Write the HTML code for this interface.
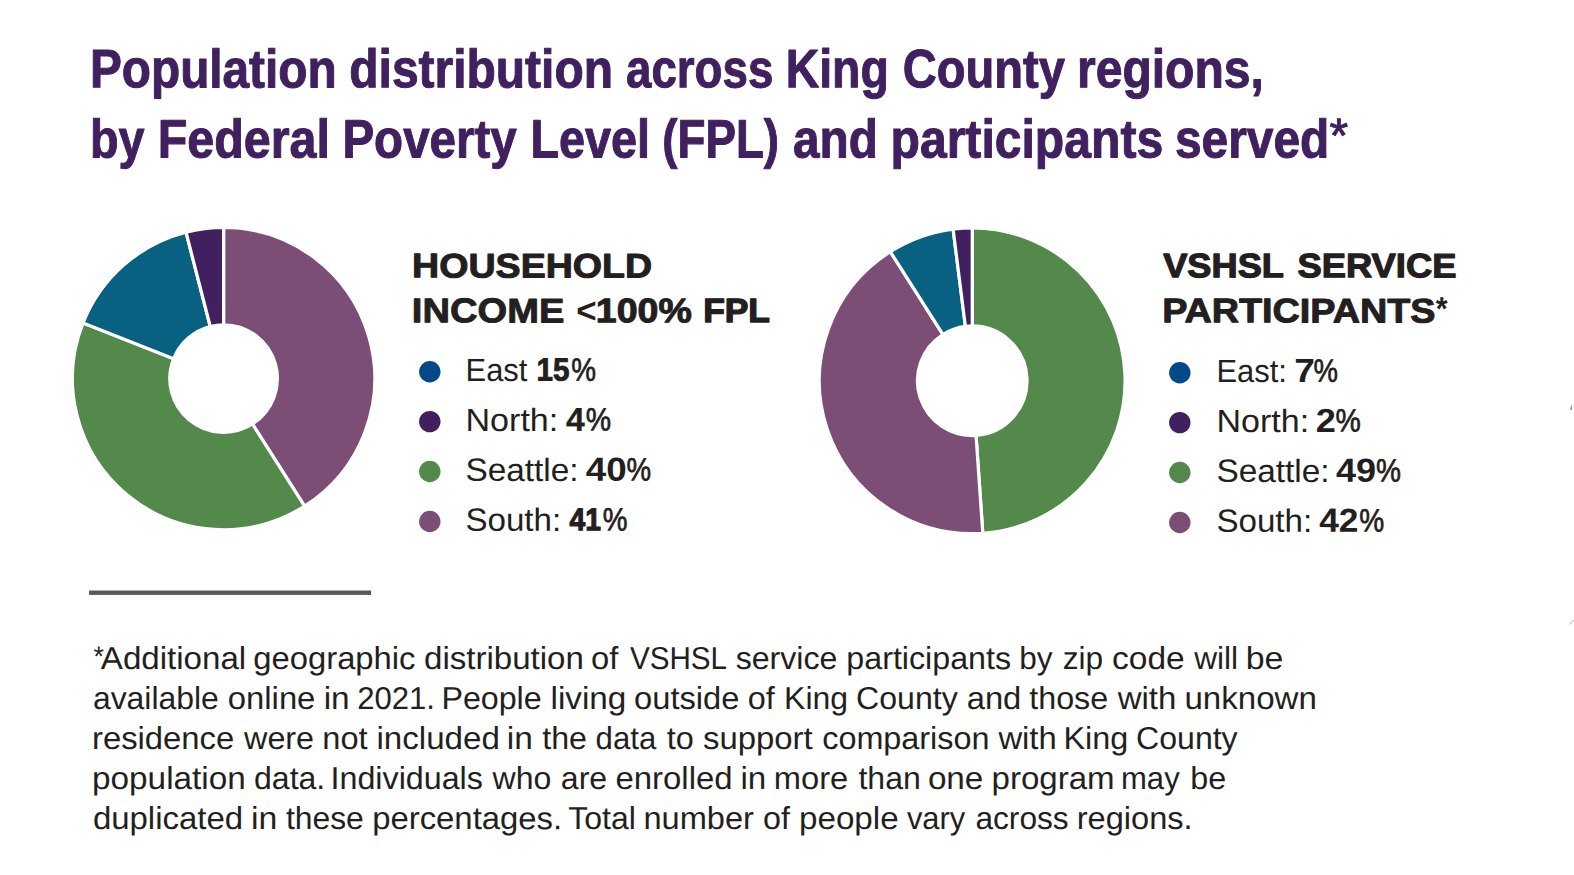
<!DOCTYPE html>
<html lang="en"><head><meta charset="utf-8"><title>Population distribution across King County regions</title>
<style>html,body{margin:0;padding:0;background:#fff}body{width:1574px;height:875px;overflow:hidden}svg{display:block}text{font-family:"Liberation Sans",Arial,Helvetica,sans-serif;white-space:pre;text-rendering:geometricPrecision}</style></head><body>
<svg width="1574" height="875" viewBox="0 0 1574 875">
<rect width="1574" height="875" fill="#fff"/>
<g><path d="M223.60 227.40A151.15 151.15 0 0 1 304.59 506.17L252.43 423.97A53.80 53.80 0 0 0 223.60 324.75Z" fill="#7c4e75" stroke="#fff" stroke-width="3.2"/>
<path d="M304.59 506.17A151.15 151.15 0 0 1 83.06 322.91L173.58 358.74A53.80 53.80 0 0 0 252.43 423.97Z" fill="#53894b" stroke="#fff" stroke-width="3.2"/>
<path d="M83.06 322.91A151.15 151.15 0 0 1 186.01 232.15L210.22 326.44A53.80 53.80 0 0 0 173.58 358.74Z" fill="#096182" stroke="#fff" stroke-width="3.2"/>
<path d="M186.01 232.15A151.15 151.15 0 0 1 223.60 227.40L223.60 324.75A53.80 53.80 0 0 0 210.22 326.44Z" fill="#40205f" stroke="#fff" stroke-width="3.2"/></g>
<g><path d="M972.25 227.85A152.90 152.90 0 0 1 982.81 533.28L976.03 435.42A54.80 54.80 0 0 0 972.25 325.95Z" fill="#53894b" stroke="#fff" stroke-width="3.2"/>
<path d="M982.81 533.28A152.90 152.90 0 0 1 890.32 251.65L942.89 334.48A54.80 54.80 0 0 0 976.03 435.42Z" fill="#7c4e75" stroke="#fff" stroke-width="3.2"/>
<path d="M890.32 251.65A152.90 152.90 0 0 1 953.09 229.06L965.38 326.38A54.80 54.80 0 0 0 942.89 334.48Z" fill="#096182" stroke="#fff" stroke-width="3.2"/>
<path d="M953.09 229.06A152.90 152.90 0 0 1 972.25 227.85L972.25 325.95A54.80 54.80 0 0 0 965.38 326.38Z" fill="#40205f" stroke="#fff" stroke-width="3.2"/></g>
<circle cx="429.8" cy="371.70" r="10.7" fill="#034888"/>
<circle cx="429.8" cy="421.60" r="10.7" fill="#40205f"/>
<circle cx="429.8" cy="471.55" r="10.7" fill="#53894b"/>
<circle cx="429.8" cy="521.50" r="10.7" fill="#7c4e75"/>
<circle cx="1179.8" cy="372.70" r="10.7" fill="#034888"/>
<circle cx="1179.8" cy="422.60" r="10.7" fill="#40205f"/>
<circle cx="1179.8" cy="472.55" r="10.7" fill="#53894b"/>
<circle cx="1179.8" cy="522.50" r="10.7" fill="#7c4e75"/>
<rect x="89.05" y="590.5" width="282.05" height="4.4" fill="#58585b"/>
<path d="M1570.2 410.2L1570.5 407.4L1572 404.3L1572.1 409.9Z" fill="#7a5b9b" opacity=".7"/>
<path d="M1569.4 624.6L1574 619.4" stroke="#c3d8dc" stroke-width="1.5" fill="none"/>
<g>
<text transform="translate(90.04 87.30) rotate(0.05) scale(0.8827 1)" font-size="54.07" font-weight="700" fill="#40205f" stroke="#40205f" stroke-width="1.00" stroke-linejoin="round">Population </text>
<text transform="translate(349.30 87.30) rotate(0.05) scale(0.8869 1)" font-size="54.07" font-weight="700" fill="#40205f" stroke="#40205f" stroke-width="1.00" stroke-linejoin="round">distribution </text>
<text transform="translate(626.03 87.30) rotate(0.05) scale(0.8449 1)" font-size="54.07" font-weight="700" fill="#40205f" stroke="#40205f" stroke-width="1.00" stroke-linejoin="round">across </text>
<text transform="translate(785.66 87.30) rotate(0.05) scale(0.8585 1)" font-size="54.07" font-weight="700" fill="#40205f" stroke="#40205f" stroke-width="1.00" stroke-linejoin="round">King </text>
<text transform="translate(902.64 87.30) rotate(0.05) scale(0.8712 1)" font-size="54.07" font-weight="700" fill="#40205f" stroke="#40205f" stroke-width="1.00" stroke-linejoin="round">County </text>
<text transform="translate(1077.01 87.30) rotate(0.05) scale(0.8882 1)" font-size="54.07" font-weight="700" fill="#40205f" stroke="#40205f" stroke-width="1.00" stroke-linejoin="round">regions,</text>
</g>
<g>
<text transform="translate(90.05 157.40) rotate(0.05) scale(0.8636 1)" font-size="54.07" font-weight="700" fill="#40205f" stroke="#40205f" stroke-width="1.00" stroke-linejoin="round">by </text>
<text transform="translate(157.66 157.40) rotate(0.05) scale(0.8959 1)" font-size="54.07" font-weight="700" fill="#40205f" stroke="#40205f" stroke-width="1.00" stroke-linejoin="round">Federal </text>
<text transform="translate(342.42 157.40) rotate(0.05) scale(0.8792 1)" font-size="54.07" font-weight="700" fill="#40205f" stroke="#40205f" stroke-width="1.00" stroke-linejoin="round">Poverty </text>
<text transform="translate(530.44 157.40) rotate(0.05) scale(0.8639 1)" font-size="54.07" font-weight="700" fill="#40205f" stroke="#40205f" stroke-width="1.00" stroke-linejoin="round">Level </text>
<text transform="translate(662.36 157.40) rotate(0.05) scale(0.8443 1)" font-size="54.07" font-weight="700" fill="#40205f" stroke="#40205f" stroke-width="1.00" stroke-linejoin="round">(FPL) </text>
<text transform="translate(792.99 157.40) rotate(0.05) scale(0.8832 1)" font-size="54.07" font-weight="700" fill="#40205f" stroke="#40205f" stroke-width="1.00" stroke-linejoin="round">and </text>
<text transform="translate(890.51 157.40) rotate(0.05) scale(0.8898 1)" font-size="54.07" font-weight="700" fill="#40205f" stroke="#40205f" stroke-width="1.00" stroke-linejoin="round">participants </text>
<text transform="translate(1175.03 157.40) rotate(0.05) scale(0.8843 1)" font-size="54.07" font-weight="700" fill="#40205f" stroke="#40205f" stroke-width="1.00" stroke-linejoin="round">served </text>
</g>
<g>
<text transform="translate(1329.42 152.10) rotate(0.05) scale(0.9884 1)" font-size="48.40" font-weight="400" fill="#40205f" stroke="#40205f" stroke-width="1.00" stroke-linejoin="round">*</text>
</g>
<g>
<text transform="translate(412.12 277.36) rotate(0.05) scale(1.0998 1)" font-size="34.17" font-weight="700" fill="#231f20" stroke="#231f20" stroke-width="0.99" stroke-linejoin="round">HOUSEHOLD</text>
</g>
<g>
<text transform="translate(411.87 322.30) rotate(0.05) scale(1.1116 1)" font-size="34.29" font-weight="700" fill="#231f20" stroke="#231f20" stroke-width="0.91" stroke-linejoin="round">INCOME </text>
<text transform="translate(576.31 322.75) rotate(0.05) scale(0.9792 1)" font-size="35.61" font-weight="700" fill="#231f20">&lt; </text>
<text transform="translate(595.80 322.25) rotate(0.05) scale(1.0989 1)" font-size="34.16" font-weight="700" fill="#231f20" stroke="#231f20" stroke-width="1.00" stroke-linejoin="round">100% </text>
<text transform="translate(703.14 322.08) rotate(0.05) scale(1.0507 1)" font-size="33.67" font-weight="700" fill="#231f20" stroke="#231f20" stroke-width="1.34" stroke-linejoin="round">FPL</text>
</g>
<g>
<text transform="translate(1163.23 277.25) rotate(0.05) scale(1.0688 1)" font-size="33.86" font-weight="700" fill="#231f20" stroke="#231f20" stroke-width="1.21" stroke-linejoin="round">VSHSL </text>
<text transform="translate(1297.43 277.26) rotate(0.05) scale(1.0728 1)" font-size="33.90" font-weight="700" fill="#231f20" stroke="#231f20" stroke-width="1.18" stroke-linejoin="round">SERVICE</text>
</g>
<g>
<text transform="translate(1162.14 322.27) rotate(0.05) scale(1.1034 1)" font-size="34.21" font-weight="700" fill="#231f20" stroke="#231f20" stroke-width="0.96" stroke-linejoin="round">PARTICIPANTS</text>
</g>
<g>
<text transform="translate(1435.64 319.70) rotate(0.05) scale(0.9246 1)" font-size="32.85" font-weight="700" fill="#231f20">*</text>
</g>
<g>
<text transform="translate(465.53 381.00) rotate(0.05) scale(0.9620 1)" font-size="32.12" font-weight="400" fill="#231f20">East </text>
</g>
<g>
<text transform="translate(536.41 380.55) rotate(0.05) scale(0.9255 1)" font-size="32.04" font-weight="700" fill="#231f20" stroke="#231f20" stroke-width="0.90" stroke-linejoin="round">15</text>
</g>
<g>
<text transform="translate(571.13 380.65) rotate(0.05) scale(0.8609 1)" font-size="32.34" font-weight="400" fill="#231f20" stroke="#231f20" stroke-width="0.70" stroke-linejoin="round">%</text>
</g>
<g>
<text transform="translate(465.51 430.90) rotate(0.05) scale(1.0605 1)" font-size="32.12" font-weight="400" fill="#231f20">North: </text>
</g>
<g>
<text transform="translate(566.12 430.76) rotate(0.05) scale(1.0228 1)" font-size="32.96" font-weight="700" fill="#231f20" stroke="#231f20" stroke-width="0.28" stroke-linejoin="round">4</text>
</g>
<g>
<text transform="translate(585.73 430.55) rotate(0.05) scale(0.8799 1)" font-size="32.34" font-weight="400" fill="#231f20" stroke="#231f20" stroke-width="0.70" stroke-linejoin="round">%</text>
</g>
<g>
<text transform="translate(465.38 480.85) rotate(0.05) scale(1.0394 1)" font-size="32.12" font-weight="400" fill="#231f20">Seattle: </text>
</g>
<g>
<text transform="translate(585.83 480.85) rotate(0.05) scale(1.1021 1)" font-size="33.36" font-weight="700" fill="#231f20">40</text>
</g>
<g>
<text transform="translate(626.41 480.50) rotate(0.05) scale(0.8545 1)" font-size="32.34" font-weight="400" fill="#231f20" stroke="#231f20" stroke-width="0.70" stroke-linejoin="round">%</text>
</g>
<g>
<text transform="translate(465.43 530.80) rotate(0.05) scale(1.0311 1)" font-size="32.12" font-weight="400" fill="#231f20">South: </text>
</g>
<g>
<text transform="translate(569.56 530.22) rotate(0.05) scale(0.8921 1)" font-size="31.68" font-weight="700" fill="#231f20" stroke="#231f20" stroke-width="1.15" stroke-linejoin="round">41</text>
</g>
<g>
<text transform="translate(602.78 530.45) rotate(0.05) scale(0.8606 1)" font-size="32.34" font-weight="400" fill="#231f20" stroke="#231f20" stroke-width="0.70" stroke-linejoin="round">%</text>
</g>
<g>
<text transform="translate(1216.44 382.00) rotate(0.05) scale(0.9618 1)" font-size="32.12" font-weight="400" fill="#231f20">East: </text>
</g>
<g>
<text transform="translate(1294.28 382.00) rotate(0.05) scale(1.1116 1)" font-size="33.36" font-weight="700" fill="#231f20">7</text>
</g>
<g>
<text transform="translate(1313.53 381.65) rotate(0.05) scale(0.8504 1)" font-size="32.34" font-weight="400" fill="#231f20" stroke="#231f20" stroke-width="0.70" stroke-linejoin="round">%</text>
</g>
<g>
<text transform="translate(1216.56 431.90) rotate(0.05) scale(1.0581 1)" font-size="32.12" font-weight="400" fill="#231f20">North: </text>
</g>
<g>
<text transform="translate(1315.86 431.90) rotate(0.05) scale(1.0840 1)" font-size="33.36" font-weight="700" fill="#231f20">2</text>
</g>
<g>
<text transform="translate(1335.48 431.55) rotate(0.05) scale(0.8789 1)" font-size="32.34" font-weight="400" fill="#231f20" stroke="#231f20" stroke-width="0.70" stroke-linejoin="round">%</text>
</g>
<g>
<text transform="translate(1216.38 481.85) rotate(0.05) scale(1.0394 1)" font-size="32.12" font-weight="400" fill="#231f20">Seattle: </text>
</g>
<g>
<text transform="translate(1335.98 481.85) rotate(0.05) scale(1.0823 1)" font-size="33.36" font-weight="700" fill="#231f20">49</text>
</g>
<g>
<text transform="translate(1376.05 481.50) rotate(0.05) scale(0.8685 1)" font-size="32.34" font-weight="400" fill="#231f20" stroke="#231f20" stroke-width="0.70" stroke-linejoin="round">%</text>
</g>
<g>
<text transform="translate(1216.43 531.80) rotate(0.05) scale(1.0311 1)" font-size="32.12" font-weight="400" fill="#231f20">South: </text>
</g>
<g>
<text transform="translate(1319.20 531.77) rotate(0.05) scale(1.0621 1)" font-size="33.28" font-weight="700" fill="#231f20" stroke="#231f20" stroke-width="0.05" stroke-linejoin="round">42</text>
</g>
<g>
<text transform="translate(1359.14 531.45) rotate(0.05) scale(0.8693 1)" font-size="32.34" font-weight="400" fill="#231f20" stroke="#231f20" stroke-width="0.70" stroke-linejoin="round">%</text>
</g>
<g>
<text transform="translate(93.60 666.30) rotate(0.05) scale(0.9273 1)" font-size="28.78" font-weight="400" fill="#231f20">*</text>
</g>
<g>
<text transform="translate(100.80 669.00) rotate(0.05) scale(1.0447 1)" font-size="31.69" font-weight="400" fill="#231f20">Additional </text>
<text transform="translate(253.31 669.00) rotate(0.05) scale(1.0343 1)" font-size="31.69" font-weight="400" fill="#231f20">geographic </text>
<text transform="translate(424.04 669.00) rotate(0.05) scale(1.0429 1)" font-size="31.69" font-weight="400" fill="#231f20">distribution </text>
<text transform="translate(591.07 669.00) rotate(0.05) scale(1.0327 1)" font-size="31.69" font-weight="400" fill="#231f20">of </text>
<text transform="translate(629.88 669.00) rotate(0.05) scale(0.9347 1)" font-size="31.69" font-weight="400" fill="#231f20">VSHSL </text>
<text transform="translate(735.64 669.00) rotate(0.05) scale(1.0134 1)" font-size="31.69" font-weight="400" fill="#231f20">service </text>
<text transform="translate(846.35 669.00) rotate(0.05) scale(1.0162 1)" font-size="31.69" font-weight="400" fill="#231f20">participants </text>
<text transform="translate(1019.18 669.00) rotate(0.05) scale(0.9940 1)" font-size="31.69" font-weight="400" fill="#231f20">by </text>
<text transform="translate(1062.64 669.00) rotate(0.05) scale(0.9985 1)" font-size="31.69" font-weight="400" fill="#231f20">zip </text>
<text transform="translate(1112.07 669.00) rotate(0.05) scale(1.0574 1)" font-size="31.69" font-weight="400" fill="#231f20">code </text>
<text transform="translate(1194.17 669.00) rotate(0.05) scale(0.9974 1)" font-size="31.69" font-weight="400" fill="#231f20">will </text>
<text transform="translate(1245.74 669.00) rotate(0.05) scale(1.0681 1)" font-size="31.69" font-weight="400" fill="#231f20">be</text>
</g>
<g>
<text transform="translate(92.92 709.00) rotate(0.05) scale(1.0066 1)" font-size="31.69" font-weight="400" fill="#231f20">available </text>
<text transform="translate(227.84 709.00) rotate(0.05) scale(1.0348 1)" font-size="31.69" font-weight="400" fill="#231f20">online </text>
<text transform="translate(323.68 709.00) rotate(0.05) scale(1.0539 1)" font-size="31.69" font-weight="400" fill="#231f20">in </text>
<text transform="translate(357.28 709.00) rotate(0.05) scale(0.9800 1)" font-size="31.69" font-weight="400" fill="#231f20">2021. </text>
<text transform="translate(441.39 709.00) rotate(0.05) scale(1.0166 1)" font-size="31.69" font-weight="400" fill="#231f20">People </text>
<text transform="translate(550.52 709.00) rotate(0.05) scale(1.0498 1)" font-size="31.69" font-weight="400" fill="#231f20">living </text>
<text transform="translate(634.08 709.00) rotate(0.05) scale(1.0302 1)" font-size="31.69" font-weight="400" fill="#231f20">outside </text>
<text transform="translate(747.86 709.00) rotate(0.05) scale(1.0211 1)" font-size="31.69" font-weight="400" fill="#231f20">of </text>
<text transform="translate(784.07 709.00) rotate(0.05) scale(1.0081 1)" font-size="31.69" font-weight="400" fill="#231f20">King </text>
<text transform="translate(856.08 709.00) rotate(0.05) scale(1.0121 1)" font-size="31.69" font-weight="400" fill="#231f20">County </text>
<text transform="translate(966.70 709.00) rotate(0.05) scale(1.0333 1)" font-size="31.69" font-weight="400" fill="#231f20">and </text>
<text transform="translate(1029.21 709.00) rotate(0.05) scale(1.0187 1)" font-size="31.69" font-weight="400" fill="#231f20">those </text>
<text transform="translate(1117.79 709.00) rotate(0.05) scale(1.0387 1)" font-size="31.69" font-weight="400" fill="#231f20">with </text>
<text transform="translate(1184.47 709.00) rotate(0.05) scale(1.0439 1)" font-size="31.69" font-weight="400" fill="#231f20">unknown</text>
</g>
<g>
<text transform="translate(92.02 749.00) rotate(0.05) scale(1.0347 1)" font-size="31.69" font-weight="400" fill="#231f20">residence </text>
<text transform="translate(244.04 749.00) rotate(0.05) scale(1.0200 1)" font-size="31.69" font-weight="400" fill="#231f20">were </text>
<text transform="translate(322.27 749.00) rotate(0.05) scale(1.0276 1)" font-size="31.69" font-weight="400" fill="#231f20">not </text>
<text transform="translate(376.45 749.00) rotate(0.05) scale(1.0451 1)" font-size="31.69" font-weight="400" fill="#231f20">included </text>
<text transform="translate(506.87 749.00) rotate(0.05) scale(1.0553 1)" font-size="31.69" font-weight="400" fill="#231f20">in </text>
<text transform="translate(542.23 749.00) rotate(0.05) scale(1.0161 1)" font-size="31.69" font-weight="400" fill="#231f20">the </text>
<text transform="translate(595.62 749.00) rotate(0.05) scale(0.9820 1)" font-size="31.69" font-weight="400" fill="#231f20">data </text>
<text transform="translate(666.67 749.00) rotate(0.05) scale(1.0236 1)" font-size="31.69" font-weight="400" fill="#231f20">to </text>
<text transform="translate(703.04 749.00) rotate(0.05) scale(1.0370 1)" font-size="31.69" font-weight="400" fill="#231f20">support </text>
<text transform="translate(822.21 749.00) rotate(0.05) scale(1.0212 1)" font-size="31.69" font-weight="400" fill="#231f20">comparison </text>
<text transform="translate(998.39 749.00) rotate(0.05) scale(1.0353 1)" font-size="31.69" font-weight="400" fill="#231f20">with </text>
<text transform="translate(1063.38 749.00) rotate(0.05) scale(1.0212 1)" font-size="31.69" font-weight="400" fill="#231f20">King </text>
<text transform="translate(1136.09 749.00) rotate(0.05) scale(1.0115 1)" font-size="31.69" font-weight="400" fill="#231f20">County</text>
</g>
<g>
<text transform="translate(92.06 789.00) rotate(0.05) scale(1.0507 1)" font-size="31.69" font-weight="400" fill="#231f20">population </text>
<text transform="translate(254.02 789.00) rotate(0.05) scale(1.0110 1)" font-size="31.69" font-weight="400" fill="#231f20">data. </text>
<text transform="translate(330.53 789.00) rotate(0.05) scale(1.0175 1)" font-size="31.69" font-weight="400" fill="#231f20">Individuals </text>
<text transform="translate(492.51 789.00) rotate(0.05) scale(1.0109 1)" font-size="31.69" font-weight="400" fill="#231f20">who </text>
<text transform="translate(560.82 789.00) rotate(0.05) scale(1.0121 1)" font-size="31.69" font-weight="400" fill="#231f20">are </text>
<text transform="translate(615.51 789.00) rotate(0.05) scale(1.0384 1)" font-size="31.69" font-weight="400" fill="#231f20">enrolled </text>
<text transform="translate(740.45 789.00) rotate(0.05) scale(1.0473 1)" font-size="31.69" font-weight="400" fill="#231f20">in </text>
<text transform="translate(773.82 789.00) rotate(0.05) scale(1.0307 1)" font-size="31.69" font-weight="400" fill="#231f20">more </text>
<text transform="translate(858.44 789.00) rotate(0.05) scale(1.0110 1)" font-size="31.69" font-weight="400" fill="#231f20">than </text>
<text transform="translate(927.88 789.00) rotate(0.05) scale(1.0494 1)" font-size="31.69" font-weight="400" fill="#231f20">one </text>
<text transform="translate(991.53 789.00) rotate(0.05) scale(1.0432 1)" font-size="31.69" font-weight="400" fill="#231f20">program </text>
<text transform="translate(1121.00 789.00) rotate(0.05) scale(0.9801 1)" font-size="31.69" font-weight="400" fill="#231f20">may </text>
<text transform="translate(1190.28 789.00) rotate(0.05) scale(1.0200 1)" font-size="31.69" font-weight="400" fill="#231f20">be</text>
</g>
<g>
<text transform="translate(92.90 829.00) rotate(0.05) scale(1.0398 1)" font-size="31.69" font-weight="400" fill="#231f20">duplicated </text>
<text transform="translate(251.06 829.00) rotate(0.05) scale(1.0686 1)" font-size="31.69" font-weight="400" fill="#231f20">in </text>
<text transform="translate(285.92 829.00) rotate(0.05) scale(1.0049 1)" font-size="31.69" font-weight="400" fill="#231f20">these </text>
<text transform="translate(372.13 829.00) rotate(0.05) scale(1.0373 1)" font-size="31.69" font-weight="400" fill="#231f20">percentages. </text>
<text transform="translate(568.24 829.00) rotate(0.05) scale(1.0094 1)" font-size="31.69" font-weight="400" fill="#231f20">Total </text>
<text transform="translate(643.41 829.00) rotate(0.05) scale(1.0279 1)" font-size="31.69" font-weight="400" fill="#231f20">number </text>
<text transform="translate(763.09 829.00) rotate(0.05) scale(1.0176 1)" font-size="31.69" font-weight="400" fill="#231f20">of </text>
<text transform="translate(799.01 829.00) rotate(0.05) scale(1.0466 1)" font-size="31.69" font-weight="400" fill="#231f20">people </text>
<text transform="translate(906.93 829.00) rotate(0.05) scale(0.9735 1)" font-size="31.69" font-weight="400" fill="#231f20">vary </text>
<text transform="translate(975.43 829.00) rotate(0.05) scale(0.9993 1)" font-size="31.69" font-weight="400" fill="#231f20">across </text>
<text transform="translate(1076.74 829.00) rotate(0.05) scale(1.0277 1)" font-size="31.69" font-weight="400" fill="#231f20">regions.</text>
</g>
</svg></body></html>
